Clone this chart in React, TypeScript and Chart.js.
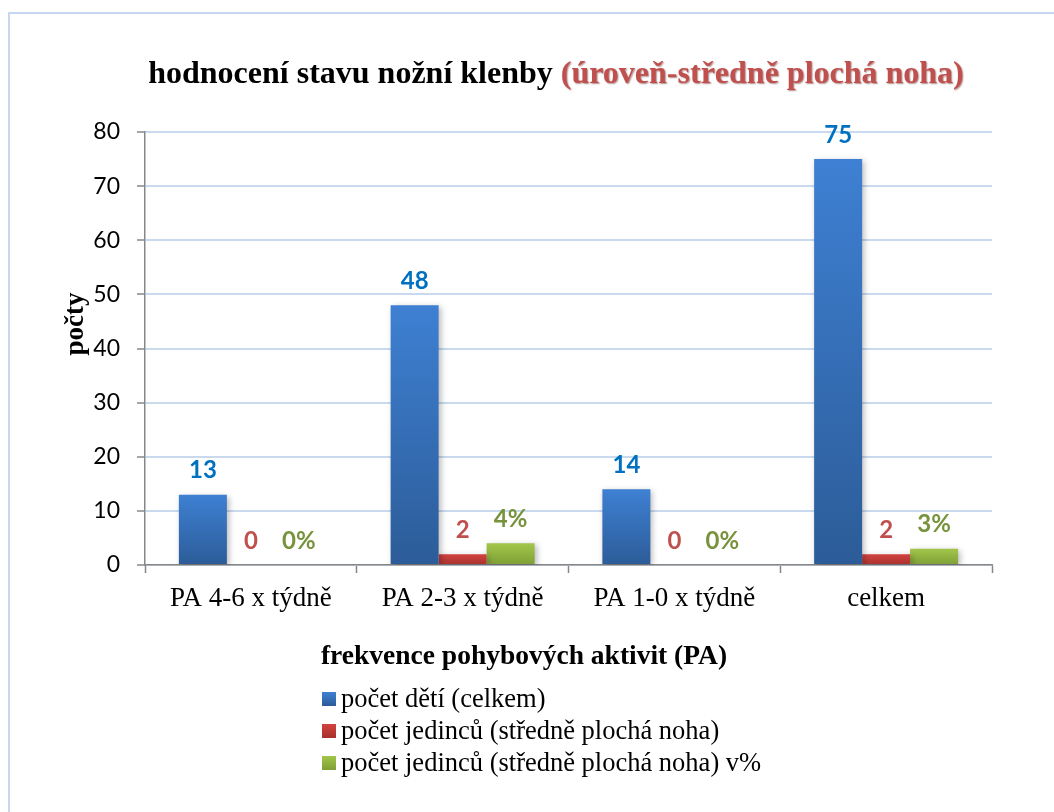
import React, { useEffect, useRef } from "react";
import { Chart, registerables } from "chart.js";

Chart.register(...registerables);

// Categories and series values
const categories = ["PA 4-6 x týdně", "PA 2-3 x týdně", "PA 1-0 x týdně", "celkem"];
const childrenTotal = [13, 48, 14, 75];
const flatFootCount = [0, 2, 0, 2];
const flatFootPercent = [0, 4, 0, 3];

const seriesNames = [
  "počet dětí (celkem)",
  "počet jedinců (středně plochá noha)",
  "počet jedinců (středně plochá noha) v%",
];
const labelSuffixes = ["", "", "%"];

const titleMain = "hodnocení stavu nožní klenby ";
const titleAccent = "(úroveň-středně plochá noha)";
const xAxisTitle = "frekvence pohybových aktivit (PA)";
const yAxisTitle = "počty";

const yMin = 0;
const yMax = 80;
const yStep = 10;

// Styles
const SERIF = '"Liberation Serif", "Times New Roman", serif';
const SANS = 'Lato, "Open Sans", sans-serif';
const barColors = [
  { top: "#3E80D3", bottom: "#2C5C98", label: "#0070C0" },
  { top: "#D2433F", bottom: "#A8312E", label: "#C0504D" },
  { top: "#A2C64A", bottom: "#7E9F36", label: "#77933C" },
];

function barFill(top: string, bottom: string) {
  return (ctx: any) => {
    const chart = ctx.chart;
    const { chartArea, scales } = chart;
    if (!chartArea || !scales?.y || ctx.type !== "data") return bottom;
    const v = ctx.parsed?.y ?? 0;
    const y0 = scales.y.getPixelForValue(v);
    const y1 = scales.y.getPixelForValue(0);
    if (y1 - y0 < 1) return top;
    const g = chart.ctx.createLinearGradient(0, y0, 0, y1);
    g.addColorStop(0, top);
    g.addColorStop(1, bottom);
    return g;
  };
}

// Soft drop shadow under the bars
const barShadow = {
  id: "barShadow",
  beforeDatasetsDraw(chart: any) {
    const ctx = chart.ctx;
    ctx.save();
    ctx.shadowColor = "rgba(0,0,0,0.28)";
    ctx.shadowBlur = 6;
    ctx.shadowOffsetX = 2;
    ctx.shadowOffsetY = 2;
  },
  afterDatasetsDraw(chart: any) {
    chart.ctx.restore();
  },
};

// Value labels above each bar
const valueLabels = {
  id: "valueLabels",
  afterDatasetsDraw(chart: any) {
    const ctx = chart.ctx;
    ctx.save();
    ctx.font = `bold 24px ${SANS}`;
    ctx.textAlign = "center";
    ctx.textBaseline = "middle";
    chart.data.datasets.forEach((ds: any, di: number) => {
      const meta = chart.getDatasetMeta(di);
      ctx.fillStyle = barColors[di].label;
      meta.data.forEach((el: any, i: number) => {
        const text = `${ds.data[i]}${labelSuffixes[di]}`;
        ctx.fillText(text, el.x, el.y - 24);
      });
    });
    ctx.restore();
  },
};

// Two-coloured chart title and both axis titles
const headings = {
  id: "headings",
  afterDraw(chart: any) {
    const ctx = chart.ctx;
    ctx.save();
    ctx.font = `bold 32px ${SERIF}`;
    ctx.textBaseline = "alphabetic";
    ctx.textAlign = "left";
    const wa = ctx.measureText(titleMain).width;
    const wb = ctx.measureText(titleAccent).width;
    const centerX = 556;
    const baseline = 83;
    const x0 = centerX - (wa + wb) / 2;
    ctx.fillStyle = "#000000";
    ctx.fillText(titleMain, x0, baseline);
    ctx.save();
    ctx.shadowColor = "rgba(80,0,0,0.45)";
    ctx.shadowBlur = 1.5;
    ctx.shadowOffsetX = 1;
    ctx.shadowOffsetY = 1;
    ctx.fillStyle = "#C0504D";
    ctx.fillText(titleAccent, x0 + wa, baseline);
    ctx.restore();

    ctx.font = `bold 27.5px ${SERIF}`;
    ctx.textAlign = "center";
    ctx.textBaseline = "middle";
    ctx.fillStyle = "#000000";
    ctx.fillText(xAxisTitle, 524, 657);

    ctx.translate(76, 324);
    ctx.rotate(-Math.PI / 2);
    ctx.font = `bold 27px ${SERIF}`;
    ctx.fillText(yAxisTitle, 0, 0);
    ctx.restore();
  },
};

// Vertical legend under the axis title
const stackedLegend = {
  id: "stackedLegend",
  afterDraw(chart: any) {
    const ctx = chart.ctx;
    ctx.save();
    const left = 322;
    const firstRow = 699;
    const rowGap = 32;
    const box = 14;
    ctx.font = `26.5px ${SERIF}`;
    ctx.textBaseline = "middle";
    ctx.textAlign = "left";
    chart.data.datasets.forEach((ds: any, di: number) => {
      const cy = firstRow + di * rowGap;
      const g = ctx.createLinearGradient(0, cy - box / 2, 0, cy + box / 2);
      g.addColorStop(0, barColors[di].top);
      g.addColorStop(1, barColors[di].bottom);
      ctx.fillStyle = g;
      ctx.fillRect(left, cy - box / 2, box, box);
      ctx.fillStyle = "#000000";
      ctx.fillText(ds.label, left + box + 5, cy + 1);
    });
    ctx.restore();
  },
};

export default function App() {
  const canvasRef = useRef<HTMLCanvasElement | null>(null);

  useEffect(() => {
    if (!canvasRef.current) return;
    const values = [childrenTotal, flatFootCount, flatFootPercent];
    const chart = new Chart(canvasRef.current, {
      type: "bar",
      data: {
        labels: categories,
        datasets: values.map((data, i) => ({
          label: seriesNames[i],
          data,
          backgroundColor: barFill(barColors[i].top, barColors[i].bottom),
          borderWidth: 0,
          barPercentage: 1,
          categoryPercentage: 0.68,
        })),
      },
      options: {
        animation: false,
        responsive: true,
        maintainAspectRatio: false,
        layout: { padding: { top: 132, right: 62, bottom: 132, left: 0 } },
        plugins: {
          legend: { display: false },
          title: { display: false },
          tooltip: { enabled: false },
        },
        scales: {
          x: {
            afterFit: (scale: any) => {
              scale.height = 115;
            },
            grid: {
              drawOnChartArea: false,
              drawTicks: true,
              tickLength: 8,
              tickColor: "#878787",
              tickWidth: 1.5,
            },
            border: { color: "#878787", width: 1.5 },
            ticks: {
              color: "#000000",
              font: { family: SERIF, size: 27 },
              padding: 10,
            },
            title: { display: false },
          },
          y: {
            min: yMin,
            max: yMax,
            afterFit: (scale: any) => {
              scale.width = 145;
            },
            grid: {
              color: "#C9DAEF",
              lineWidth: 2,
              drawTicks: true,
              tickLength: 8,
              tickColor: "#878787",
              tickWidth: 1.5,
            },
            border: { color: "#878787", width: 1.5 },
            ticks: {
              stepSize: yStep,
              color: "#000000",
              font: { family: SANS, size: 23 },
              padding: 17,
            },
            title: { display: false },
          },
        },
      },
      plugins: [barShadow, valueLabels, headings, stackedLegend],
    });
    return () => chart.destroy();
  }, []);

  return (
    <div
      style={{
        position: "absolute",
        left: 0,
        top: 0,
        width: 1054,
        height: 812,
        background: "#ffffff",
        overflow: "hidden",
      }}
    >
      <div
        style={{
          position: "absolute",
          left: 8,
          top: 12,
          right: -10,
          bottom: -10,
          borderTop: "2px solid #C6D8EF",
          borderLeft: "2px solid #C6D8EF",
        }}
      />
      <canvas ref={canvasRef} style={{ position: "absolute", left: 0, top: 0 }} />
    </div>
  );
}
